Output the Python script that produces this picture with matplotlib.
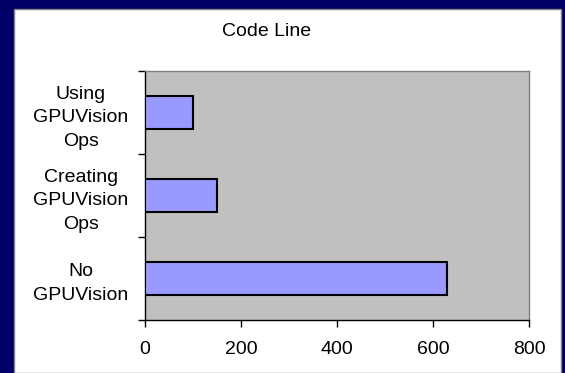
import matplotlib
matplotlib.use("Agg")
import matplotlib.pyplot as plt
from matplotlib.patches import Rectangle

# bar chart data, bottom category first
categories = ["No\nGPUVision", "Creating\nGPUVision\nOps", "Using\nGPUVision\nOps"]
code_lines = [630, 150, 100]
x_ticks = [0, 200, 400, 600, 800]
title = "Code Line"

plt.rcParams["font.family"] = ["Liberation Sans", "DejaVu Sans"]
FS = 14

W, H = 565, 373
fig = plt.figure(figsize=(W / 100, H / 100), dpi=100, facecolor="#000066")

# white chart panel inside the navy frame
panel = Rectangle((14 / W, 0), (561 - 14) / W, (373 - 9) / H,
                  transform=fig.transFigure, facecolor="white",
                  edgecolor="#808080", linewidth=1, zorder=-10)
fig.patches.append(panel)

ax = fig.add_axes([145 / W, 1 - 320 / H, (529 - 145) / W, (320 - 71) / H])
ax.set_facecolor("#C0C0C0")

ypos = list(range(len(categories)))
ax.barh(ypos, code_lines, height=0.4, color="#9999FF",
        edgecolor="black", linewidth=1.5, zorder=3)

ax.set_xlim(x_ticks[0], x_ticks[-1])
ax.set_ylim(-0.5, len(categories) - 0.5)
ax.set_xticks(x_ticks)
ax.set_xticklabels([str(t) for t in x_ticks], fontsize=FS)
ax.tick_params(axis="x", direction="out", length=5, width=1, pad=10,
               colors="black")

# labels centred on bars, tick marks between categories
ax.set_yticks(ypos)
ax.set_yticklabels(categories, fontsize=FS, ha="right",
                   multialignment="center", linespacing=1.5)
for lbl in ax.get_yticklabels():
    lbl.set_y(lbl.get_position()[1] + 0.03)
ax.set_yticks([y - 0.5 for y in range(len(categories) + 1)], minor=True)
ax.tick_params(axis="y", which="major", length=0, pad=12)
ax.tick_params(axis="y", which="minor", direction="out", length=5, width=1)

for side in ("left", "bottom"):
    ax.spines[side].set_color("black")
    ax.spines[side].set_linewidth(1)
for side in ("top", "right"):
    ax.spines[side].set_color("#808080")
    ax.spines[side].set_linewidth(1)

fig.text(267 / W, 1 - 31 / H, title, fontsize=FS, ha="center", va="center")

fig.savefig("out.png", dpi=100, facecolor=fig.get_facecolor())
